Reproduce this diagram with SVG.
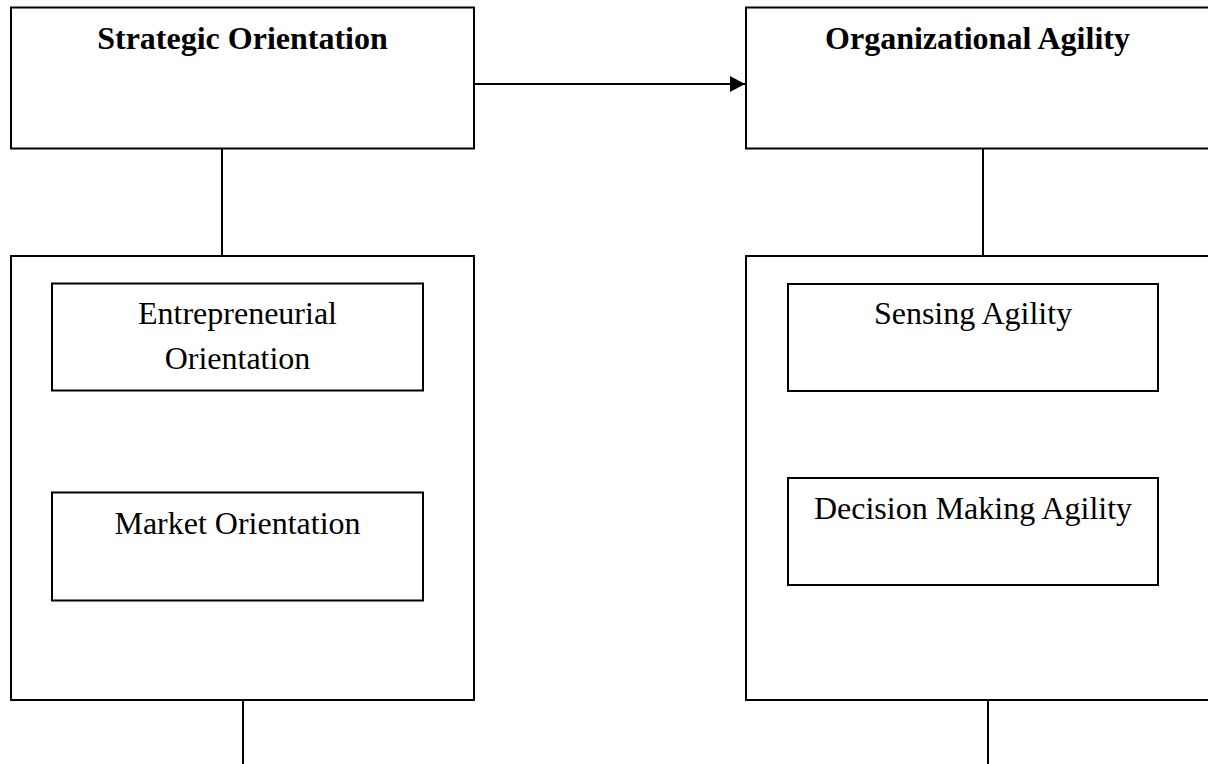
<svg xmlns="http://www.w3.org/2000/svg" width="1208" height="764" viewBox="0 0 1208 764">
<style>
.box{fill:#fff;stroke:#000;stroke-width:2}
.line{fill:none;stroke:#000;stroke-width:2}
.title{font-family:"Liberation Serif","Times New Roman",serif;font-weight:bold;font-size:32px;text-anchor:middle;fill:#000}
.lbl{font-family:"Liberation Serif","Times New Roman",serif;font-size:32px;text-anchor:middle;fill:#000}
</style>
<defs>
<marker id="ah" markerUnits="userSpaceOnUse" markerWidth="16" markerHeight="16" refX="15" refY="8" orient="auto">
<path d="M0,0 L15,8 L0,16 Z" fill="#000"/>
</marker>
</defs>
<rect width="1208" height="764" fill="#fff"/>
<g id="connectors">
<line class="line" x1="475" y1="84" x2="745" y2="84" marker-end="url(#ah)"/>
<line class="line" x1="222" y1="148" x2="222" y2="256"/>
<line class="line" x1="983" y1="148" x2="983" y2="256"/>
<line class="line" x1="243" y1="700" x2="243" y2="766"/>
<line class="line" x1="988" y1="700" x2="988" y2="766"/>
</g>
<g id="strategic-orientation">
<rect class="box" x="11" y="7.5" width="463" height="141"/>
<text class="title" x="242.5" y="49">Strategic Orientation</text>
</g>
<g id="organizational-agility">
<rect class="box" x="746" y="7.5" width="470" height="141"/>
<text class="title" x="977.5" y="49">Organizational Agility</text>
</g>
<g id="so-group">
<rect class="box" x="11" y="256" width="463" height="444"/>
</g>
<g id="oa-group">
<rect class="box" x="746" y="256" width="470" height="444"/>
</g>
<g id="entrepreneurial-orientation">
<rect class="box" x="52" y="283.5" width="371" height="107"/>
<text class="lbl" x="237.5" y="324">Entrepreneurial</text>
<text class="lbl" x="237.5" y="369">Orientation</text>
</g>
<g id="market-orientation">
<rect class="box" x="52" y="492.5" width="371" height="108"/>
<text class="lbl" x="237.5" y="534">Market Orientation</text>
</g>
<g id="sensing-agility">
<rect class="box" x="788" y="284" width="370" height="107"/>
<text class="lbl" x="973" y="324">Sensing Agility</text>
</g>
<g id="decision-making-agility">
<rect class="box" x="788" y="478" width="370" height="107"/>
<text class="lbl" x="973" y="519">Decision Making Agility</text>
</g>
</svg>
